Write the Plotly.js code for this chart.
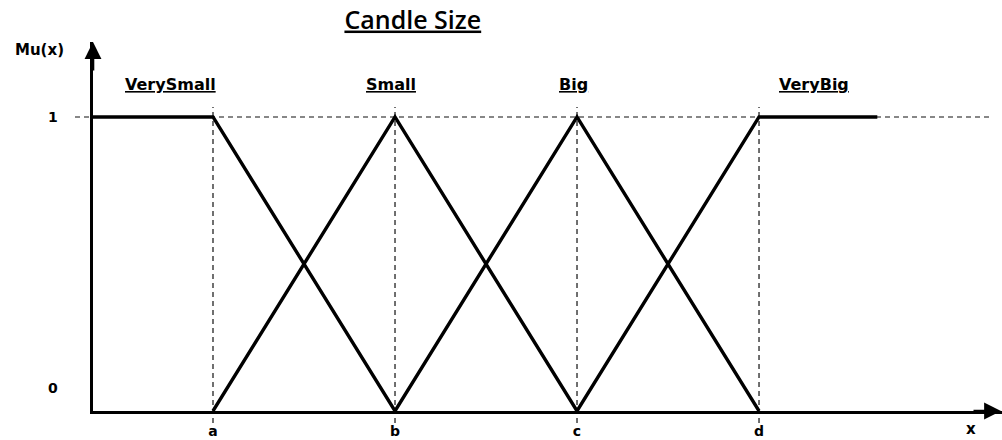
<!DOCTYPE html>
<html>
<head>
<meta charset="utf-8">
<script src="https://cdn.plot.ly/plotly-3.0.1.min.js"></script>
<style>html,body{margin:0;padding:0;background:#fff;}</style>
</head>
<body>
<div id="chart" style="width:1002px;height:440px;"></div>
<script>
// ---- data ----
const chartTitle = 'Candle Size';
const tickNames = ['a', 'b', 'c', 'd'];
const tickPos = [1, 2, 3, 4];
const xOrigin = 0.3407;     // where the y axis sits
const veryBigEnd = 4.65;    // end of the flat top of VeryBig
const setNames = ['VerySmall', 'Small', 'Big', 'VeryBig'];
const verySmallX = [xOrigin, 1, 2];
const verySmallY = [1, 1, 0];
const smallX = [1, 2, 3];
const smallY = [0, 1, 0];
const bigX = [2, 3, 4];
const bigY = [0, 1, 0];
const veryBigX = [3, 4, veryBigEnd];
const veryBigY = [0, 1, 1];
const setLabelX = [0.769, 1.978, 2.978, 4.302];
const yTickVals = [0, 1];
const yTickText = ['0', '1'];
const yName = 'Mu(x)';
const xName = 'x';

const lineStyle = {color: '#000', width: 3.4};
const seriesX = [verySmallX, smallX, bigX, veryBigX];
const seriesY = [verySmallY, smallY, bigY, veryBigY];
const traces = seriesX.map((xs, i) => ({
  type: 'scatter', mode: 'lines', x: xs, y: seriesY[i], name: setNames[i],
  line: lineStyle, hoverinfo: 'skip', cliponaxis: false
}));

const fam = '"DejaVu Sans", Verdana, sans-serif';
const annotations = [];
setNames.forEach((n, i) => annotations.push({
  x: setLabelX[i], y: 1.109, xref: 'x', yref: 'y', text: '<u>' + n + '</u>',
  xanchor: 'center', yanchor: 'middle',
  showarrow: false, font: {family: fam, size: 16, color: '#000', weight: 'bold'}
}));
yTickVals.forEach((v, i) => annotations.push({
  x: -0.0440, y: v, xref: 'paper', yref: 'y', text: yTickText[i], showarrow: false,
  xanchor: 'center', yanchor: 'middle', yshift: v === 0 ? 23 : 0,
  font: {family: fam, size: 14, color: '#000', weight: 'bold'}
}));
annotations.push({x: -0.059, y: 1.0, xref: 'paper', yref: 'paper', yshift: -8, text: yName,
  xanchor: 'center', yanchor: 'middle',
  showarrow: false, font: {family: fam, size: 15, color: '#000', weight: 'bold'}});
annotations.push({x: 0.966, y: 0, xref: 'paper', yref: 'paper', yshift: -18, text: xName,
  xanchor: 'center', yanchor: 'middle',
  showarrow: false, font: {family: fam, size: 15, color: '#000', weight: 'bold'}});
// arrow heads on the axes
annotations.push({x: 0, y: 1, xref: 'paper', yref: 'paper', ax: 0, ay: 30, showarrow: true,
  arrowhead: 2, arrowsize: 1.3, arrowwidth: 2.6, arrowcolor: '#000', text: ''});
annotations.push({x: 1, y: 0, xref: 'paper', yref: 'paper', ax: -30, ay: 0, showarrow: true,
  arrowhead: 2, arrowsize: 1.3, arrowwidth: 2.6, arrowcolor: '#000', text: ''});

const dash = {color: '#111', width: 1.2, dash: '5px,4px'};
const shapes = [{type: 'line', xref: 'paper', yref: 'y', x0: -0.0198, x1: 0.987, y0: 1, y1: 1, line: dash, layer: 'below'}];
tickPos.forEach(p => shapes.push({type: 'line', xref: 'x', yref: 'paper', x0: p, x1: p,
  y0: -0.0325, y1: 0.824, line: dash, layer: 'below'}));

const layout = {
  width: 1002, height: 440,
  margin: {l: 93, r: 0, t: 42, b: 29},
  paper_bgcolor: '#fff', plot_bgcolor: '#fff',
  showlegend: false,
  title: {text: '<u>' + chartTitle + '</u>', x: 0.412, xanchor: 'center', xref: 'container',
    y: 0.955, yanchor: 'middle', yref: 'container',
    font: {family: '"Open Sans", sans-serif', size: 25, color: '#000', weight: 600}},
  xaxis: {range: [xOrigin, 5.335], showgrid: false, zeroline: false, showline: true,
    linecolor: '#000', linewidth: 3, tickvals: tickPos, ticktext: tickNames, ticks: '',
    ticklabelstandoff: 5,
    tickfont: {family: fam, size: 14, color: '#000', weight: 'bold'}, fixedrange: true},
  yaxis: {range: [0, 1.255], showgrid: false, zeroline: false, showline: true,
    linecolor: '#000', linewidth: 3, showticklabels: false, ticks: '', fixedrange: true},
  annotations: annotations,
  shapes: shapes
};
Plotly.newPlot('chart', traces, layout, {staticPlot: true, displayModeBar: false});
</script>
</body>
</html>
